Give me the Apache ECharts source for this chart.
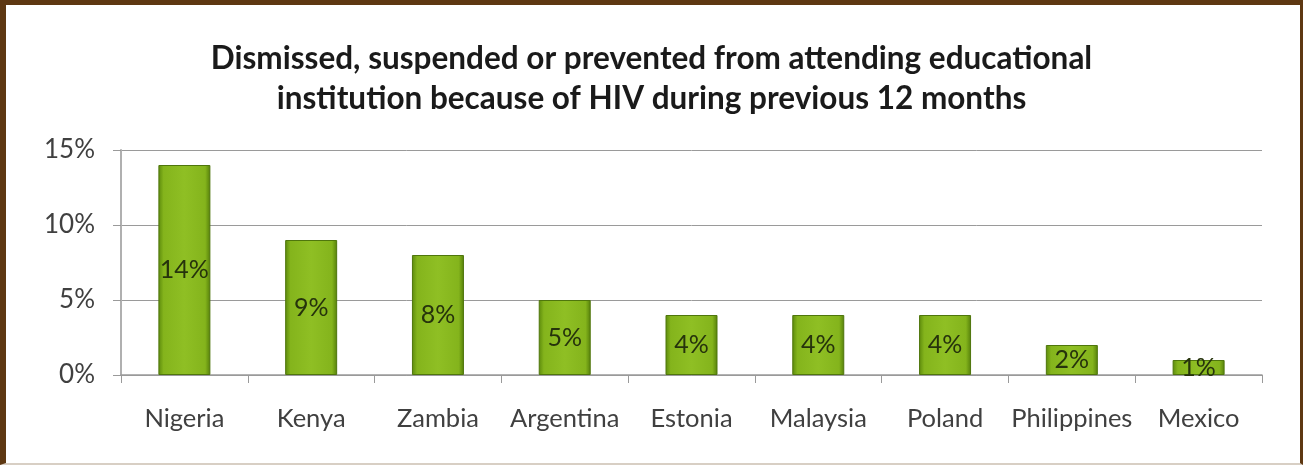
<!DOCTYPE html>
<html><head><meta charset="utf-8">
<script src="https://cdn.jsdelivr.net/npm/echarts@6/dist/echarts.min.js"></script>
<style>
html,body{margin:0;padding:0;background:#fff;}
#frame{position:absolute;left:0;top:0;width:1303px;height:465px;box-sizing:border-box;
border-top:5px solid #5e3812;border-left:6px solid #5e3812;border-right:3px solid #5e3812;border-bottom:2px solid #d8cfc4;}
#c{position:absolute;left:0;top:0;width:1303px;height:465px;}
</style></head>
<body>
<div id="c"></div>
<div id="frame"></div>
<script>
var titleLines = ['Dismissed, suspended or prevented from attending educational', 'institution because of HIV during previous 12 months'];
var categories = ['Nigeria','Kenya','Zambia','Argentina','Estonia','Malaysia','Poland','Philippines','Mexico'];
var values = [14, 9, 8, 5, 4, 4, 4, 2, 1];
var yTicks = [0, 5, 10, 15];

var FONT = 'Lato, "Open Sans", sans-serif';
var chart = echarts.init(document.getElementById('c'));
chart.setOption({
  animation: false,
  title: {
    text: titleLines.join('\n'),
    left: 'center', top: 34,
    textStyle: {fontFamily: FONT, fontWeight: 'bold', fontSize: 31.5, color: '#1a1a1a', lineHeight: 40}
  },
  grid: {left: 121, right: 41, top: 150, bottom: 90, containLabel: false},
  xAxis: {
    type: 'category', data: categories,
    axisLine: {lineStyle: {color: '#9a9a9a', width: 1.5}},
    axisTick: {show: true, length: 8, lineStyle: {color: '#9a9a9a'}, alignWithLabel: false},
    axisLabel: {interval: 0, fontFamily: FONT, fontSize: 25.5, color: '#404040', margin: 31}
  },
  yAxis: {
    type: 'value', min: yTicks[0], max: yTicks[yTicks.length-1], interval: 5,
    axisLine: {show: true, lineStyle: {color: '#b0b0b0', width: 2}},
    axisTick: {show: true, length: 8, lineStyle: {color: '#9a9a9a'}},
    axisLabel: {fontFamily: FONT, fontSize: 26, color: '#404040', margin: 26, formatter: '{value}%'},
    splitLine: {lineStyle: {color: '#9a9a9a', width: 1}}
  },
  series: [{
    type: 'bar', data: values, barWidth: 52,
    itemStyle: {
      color: new echarts.graphic.LinearGradient(0, 0, 1, 0, [
        {offset: 0, color: '#5c8a0c'},
        {offset: 0.1, color: '#84b41c'},
        {offset: 0.5, color: '#8fbf24'},
        {offset: 0.9, color: '#84b41c'},
        {offset: 1, color: '#557f0a'}
      ]),
      borderColor: '#4f760c', borderWidth: 1
    },
    label: {show: true, position: 'inside', formatter: '{c}%', fontFamily: FONT, fontSize: 25, color: '#26330c'}
  }]
});
</script>
</body></html>
